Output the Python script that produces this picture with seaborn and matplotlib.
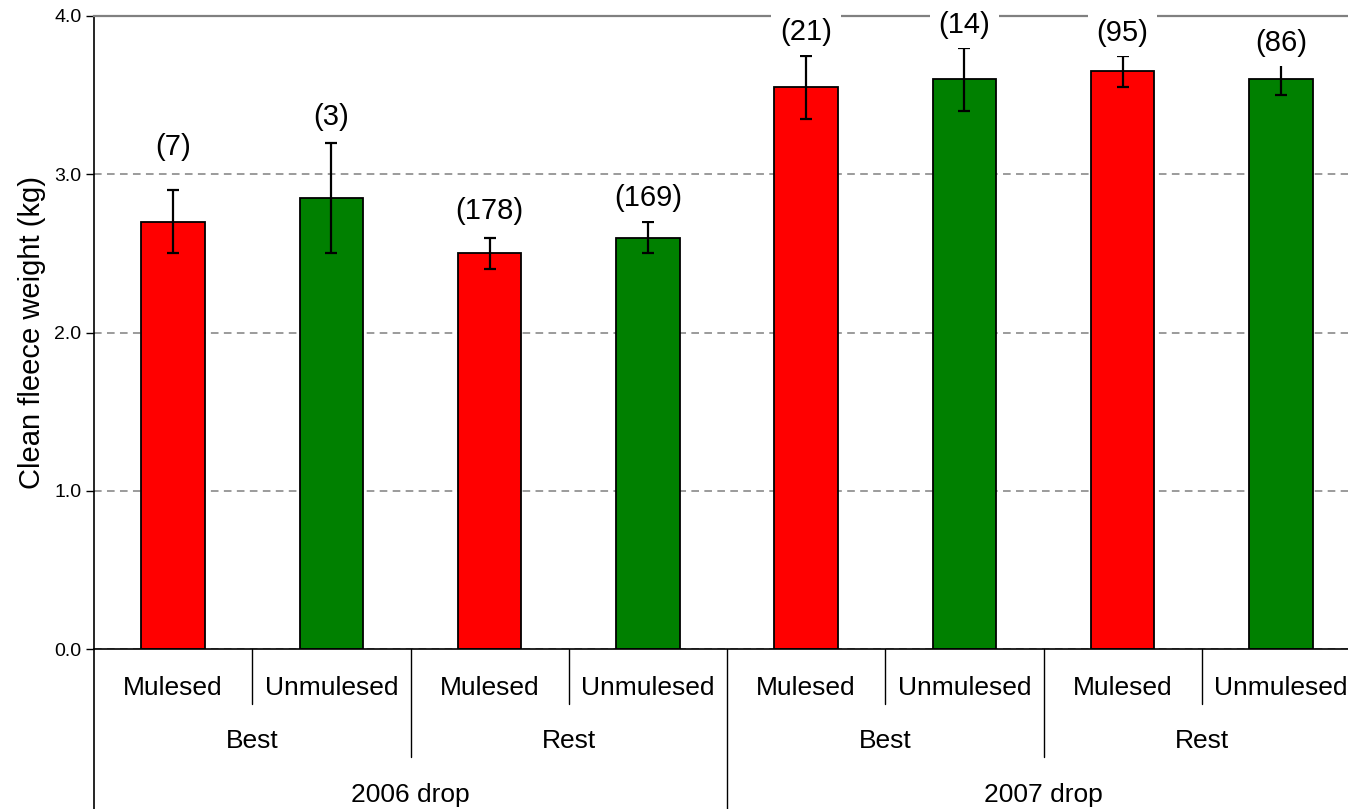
import matplotlib
matplotlib.use("Agg")
import matplotlib.pyplot as plt
import matplotlib.transforms as mtransforms
import seaborn as sns
import pandas as pd
import numpy as np

# ---- data ----
drops = ["2006 drop"] * 4 + ["2007 drop"] * 4
groups = ["Best", "Best", "Rest", "Rest", "Best", "Best", "Rest", "Rest"]
status = ["Mulesed", "Unmulesed"] * 4
means = [2.70, 2.85, 2.50, 2.60, 3.55, 3.60, 3.65, 3.60]
err_low = [2.50, 2.50, 2.40, 2.50, 3.35, 3.40, 3.55, 3.50]
err_high = [2.90, 3.20, 2.60, 2.70, 3.75, 3.80, 3.75, 3.70]
counts = ["(7)", "(3)", "(178)", "(169)", "(21)", "(14)", "(95)", "(86)"]
count_y = [3.17, 3.36, 2.77, 2.85, 3.90, 3.94, 3.89, 3.83]
yticks = [0.0, 1.0, 2.0, 3.0, 4.0]
ytick_labels = ["0.0", "1.0", "2.0", "3.0", "4.0"]
ylabel = "Clean fleece weight (kg)"
colors = {"Mulesed": "#FF0000", "Unmulesed": "#008000"}

sns.set_style("white")
plt.rcParams["font.family"] = ["Liberation Sans", "DejaVu Sans"]
plt.rcParams["text.color"] = "black"
plt.rcParams["axes.labelcolor"] = "black"
plt.rcParams["ytick.color"] = "black"

keys = [f"{d}|{g}|{s}" for d, g, s in zip(drops, groups, status)]
df = pd.DataFrame({"key": keys, "mean": means, "status": status})

W, H = 1348, 809
fig = plt.figure(figsize=(W / 100, H / 100), dpi=100)
ax = fig.add_axes([94 / W, 160 / H, 1266 / W, 633 / H])

sns.barplot(data=df, x="key", y="mean", hue="status", order=keys,
            palette=colors, dodge=False, width=0.4, edgecolor="black",
            linewidth=1.3, legend=False, saturation=1, ax=ax, zorder=2)

xs = np.arange(len(keys))
m = np.array(means)
ax.errorbar(xs, m, yerr=[m - np.array(err_low), np.array(err_high) - m],
            fmt="none", ecolor="black", elinewidth=1.6, capsize=4.5,
            capthick=1.6, zorder=3)

for x, y, t in zip(xs, count_y, counts):
    ax.text(x, y, t, ha="center", va="center", fontsize=21, zorder=6,
            color="black",
            bbox=dict(facecolor="white", edgecolor="none",
                      boxstyle="square,pad=0.3"))

ax.set_xlim(-0.5, len(keys) - 0.5)
ax.set_ylim(0, 4)
ax.set_yticks(yticks)
ax.set_yticklabels(ytick_labels, fontsize=14, color="black")
ax.tick_params(axis="y", direction="out", length=6, width=1, color="black",
               left=True, pad=3)
ax.set_xticks([])
ax.set_xlabel("")
ax.set_ylabel(ylabel, fontsize=21, color="black")
ax.yaxis.set_label_coords(-0.038, 0.5)

ax.set_axisbelow(True)
ax.yaxis.grid(True, color="#808080", linestyle=(0, (5, 3.5)), linewidth=1.1)
ax.xaxis.grid(False)

ax.spines["right"].set_visible(False)
ax.spines["top"].set_color("#808080")
ax.spines["top"].set_linewidth(1.6)
ax.spines["bottom"].set_color("black")
ax.spines["bottom"].set_linewidth(1.2)
ax.spines["left"].set_color("black")
ax.spines["left"].set_linewidth(1.2)

trans = mtransforms.blended_transform_factory(ax.transData, ax.transAxes)
ph = 633.0
lvl1_bot = -(704 - 649) / ph
lvl2_bot = -(757 - 649) / ph
lvl3_bot = -(815 - 649) / ph

# left axis extension down to figure bottom
ax.plot([-0.5, -0.5], [0, lvl3_bot], transform=trans, color="black",
        linewidth=1.2, clip_on=False)

# separators
for i in range(len(keys) - 1):
    b = i + 0.5
    if drops[i] != drops[i + 1]:
        bot = lvl3_bot
    elif groups[i] != groups[i + 1]:
        bot = lvl2_bot
    else:
        bot = lvl1_bot
    ax.plot([b, b], [0, bot], transform=trans, color="black", linewidth=1.0,
            clip_on=False)

y1 = -(688 - 649) / ph
y2 = -(741 - 649) / ph
y3 = -(795 - 649) / ph

# level 1 labels
for x, s in zip(xs, status):
    ax.text(x, y1, s, transform=trans, ha="center", va="center", fontsize=19,
            color="black")

# level 2 labels
pairs = [(drops[i], groups[i]) for i in range(len(keys))]
seen = []
for p in pairs:
    if p not in seen:
        seen.append(p)
for p in seen:
    idx = [i for i, q in enumerate(pairs) if q == p]
    ax.text(np.mean(idx), y2, p[1], transform=trans, ha="center",
            va="center", fontsize=19, color="black")

# level 3 labels
for d in dict.fromkeys(drops):
    idx = [i for i, q in enumerate(drops) if q == d]
    ax.text(np.mean(idx), y3, d, transform=trans, ha="center", va="center",
            fontsize=19, color="black")

fig.savefig("out.png", dpi=100)
